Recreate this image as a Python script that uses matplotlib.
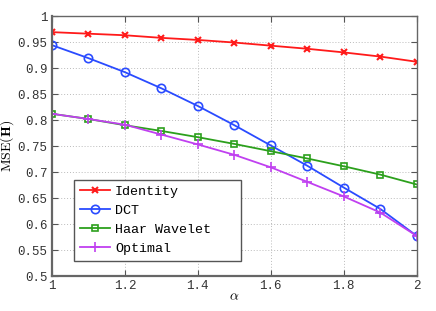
import matplotlib
matplotlib.use("Agg")
import matplotlib.pyplot as plt

alpha = [1.0, 1.1, 1.2, 1.3, 1.4, 1.5, 1.6, 1.7, 1.8, 1.9, 2.0]
identity = [0.969, 0.966, 0.963, 0.958, 0.954, 0.949, 0.943, 0.937, 0.930, 0.922, 0.912]
dct = [0.944, 0.919, 0.892, 0.861, 0.827, 0.790, 0.751, 0.712, 0.670, 0.629, 0.577]
haar = [0.812, 0.802, 0.790, 0.779, 0.767, 0.754, 0.740, 0.726, 0.711, 0.695, 0.676]
optimal = [0.812, 0.802, 0.791, 0.772, 0.753, 0.733, 0.709, 0.681, 0.653, 0.622, 0.577]

xticks = [1, 1.2, 1.4, 1.6, 1.8, 2]
xticklabels = ["1", "1.2", "1.4", "1.6", "1.8", "2"]
yticks = [0.5, 0.55, 0.6, 0.65, 0.7, 0.75, 0.8, 0.85, 0.9, 0.95, 1]
yticklabels = ["0.5", "0.55", "0.6", "0.65", "0.7", "0.75", "0.8", "0.85", "0.9", "0.95", "1"]

plt.rcParams['mathtext.fontset'] = 'cm'
mono = 'Liberation Mono'

fig = plt.figure(figsize=(4.36, 3.11), dpi=100)
ax = fig.add_axes([0.119, 0.1125, 0.837, 0.836])

lw = 1.3
ax.plot(alpha, identity, color='#ff1a1a', marker='x', ms=5, mew=1.5, lw=lw, label='Identity')
ax.plot(alpha, dct, color='#2a4bff', marker='o', ms=6, mfc='none', mew=1.2, lw=lw, label='DCT')
ax.plot(alpha, haar, color='#2ca01c', marker='s', ms=5, mfc='none', mew=1.2, lw=lw, label='Haar Wavelet')
ax.plot(alpha, optimal, color='#c040f0', marker='+', ms=7, mew=1.2, lw=lw, label='Optimal')

ax.set_xlim(1, 2)
ax.set_ylim(0.5, 1)
ax.set_xticks(xticks)
ax.set_xticklabels(xticklabels, fontfamily=mono, fontsize=9, color='#333333')
ax.set_yticks(yticks)
ax.set_yticklabels(yticklabels, fontfamily=mono, fontsize=9, color='#333333')
ax.tick_params(direction='in', top=True, right=True, length=4, width=0.8, color='#555555', pad=3)
ax.grid(True, linestyle=(0, (1, 2)), color='#bbbbbb', lw=0.7)
for s in ax.spines.values():
    s.set_color('#666666')
    s.set_linewidth(1.0)
ax.spines['left'].set_linewidth(1.6)
ax.spines['bottom'].set_linewidth(1.6)

ax.set_xlabel(r'$\alpha$', fontsize=10, labelpad=-2)
ax.set_ylabel(r'$\mathrm{MSE}(\mathbf{H})$', fontsize=10, labelpad=1)

leg = ax.legend(loc='lower left', bbox_to_anchor=(0.060, 0.058, 0.4575, 0.3), mode='expand',
                prop={'family': mono, 'size': 9.6},
                fancybox=False, framealpha=1, edgecolor='#555555', borderpad=0.45,
                handlelength=2.3, labelspacing=0.5, handletextpad=0.35, borderaxespad=0)
leg.get_frame().set_linewidth(1.0)

fig.savefig('out.png', dpi=100)
